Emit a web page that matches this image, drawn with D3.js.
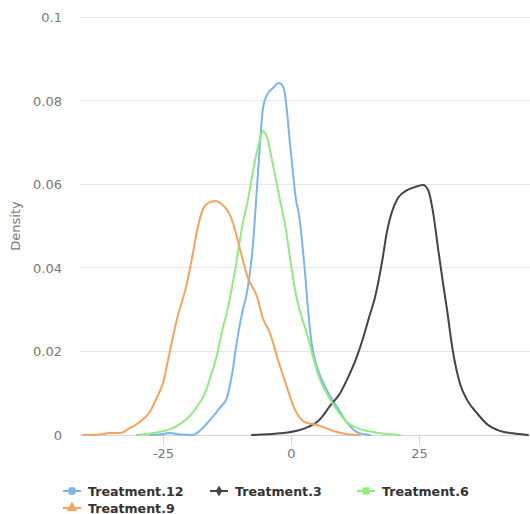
<!DOCTYPE html>
<html>
<head>
<meta charset="utf-8">
<script src="https://cdn.jsdelivr.net/npm/d3@7"></script>
<style>
  body { margin: 0; background: #fff; }
  svg { display: block; font-family: "DejaVu Sans", sans-serif; }
</style>
</head>
<body>
<svg id="chart"></svg>
<script>
// density estimates, [value, density]
const treatment12 = [[-27.5,0],[-25.6,0.0001],[-23.6,0.0005],[-21.7,0.0001],[-19.1,0],[-17.8,0.001],[-15.8,0.0036],[-13.9,0.0065],[-12.5,0.0089],[-11.9,0.012],[-11.3,0.016],[-10.9,0.0196],[-10.0,0.0263],[-9.4,0.0299],[-8.6,0.034],[-8.0,0.039],[-7.6,0.0431],[-7.2,0.049],[-6.8,0.0562],[-6.25,0.0658],[-5.5,0.0778],[-4.7,0.0813],[-3.5,0.083],[-2.3,0.0842],[-1.6,0.0835],[-1.2,0.0818],[-0.8,0.0778],[-0.2,0.0699],[0.4,0.0627],[1.0,0.0562],[1.6,0.0526],[2.15,0.0467],[2.7,0.0395],[3.5,0.028],[4.1,0.0215],[4.7,0.0179],[5.3,0.0155],[7.0,0.0108],[9.0,0.0067],[10.9,0.0031],[12.9,0.0007],[15.4,0]];
const treatment3 = [[-7.6,0],[-2.15,0.0004],[1.2,0.001],[3.3,0.0019],[5.1,0.0031],[6.25,0.0046],[7.6,0.0069],[9.6,0.01],[11.1,0.0136],[12.9,0.0188],[14.1,0.0232],[15.4,0.0287],[16.4,0.0328],[17.8,0.0414],[18.75,0.0486],[19.7,0.0533],[20.9,0.0567],[22.7,0.0586],[24.2,0.0593],[25.8,0.0598],[26.8,0.0586],[27.7,0.0538],[28.7,0.045],[29.7,0.0364],[30.5,0.0299],[31.6,0.0203],[33.0,0.0124],[34.4,0.0084],[36.3,0.0053],[38.3,0.0026],[40.8,0.001],[43.4,0.0004],[46.3,0]];
const treatment6 = [[-30.1,0],[-26.2,0.0006],[-23.6,0.0014],[-21.7,0.0026],[-19.7,0.0046],[-18.4,0.0067],[-16.8,0.01],[-15.8,0.0136],[-14.45,0.0191],[-13.3,0.0256],[-12.5,0.0294],[-10.9,0.0395],[-9.4,0.0507],[-8.4,0.0562],[-7.0,0.0658],[-6.05,0.0706],[-5.5,0.0727],[-4.7,0.0713],[-3.7,0.0658],[-2.15,0.0562],[-1.2,0.0507],[-0.2,0.0426],[0.8,0.0347],[2.15,0.028],[3.1,0.0244],[4.3,0.0187],[5.7,0.0132],[7.0,0.01],[9.0,0.006],[10.9,0.0031],[12.9,0.0017],[16.0,0.0007],[19.3,0.0002],[21.3,0]];
const treatment9 = [[-40.6,0],[-37.3,0.0001],[-35.35,0.0005],[-33.4,0.0005],[-31.45,0.0017],[-29.5,0.0031],[-27.5,0.0057],[-26.2,0.0089],[-25.0,0.0124],[-23.6,0.0203],[-22.3,0.0275],[-20.3,0.0364],[-19.1,0.0438],[-18.4,0.0485],[-17.4,0.0533],[-16.2,0.0555],[-14.8,0.056],[-13.3,0.055],[-11.9,0.0526],[-10.9,0.049],[-10.0,0.0447],[-8.4,0.0376],[-6.6,0.033],[-5.5,0.028],[-4.1,0.0244],[-2.5,0.0179],[-0.8,0.0115],[0.8,0.006],[2.7,0.0031],[5.1,0.0024],[6.25,0.0019],[9.0,0.0007],[10.9,0.0002],[13.5,0]];

const seriesNames = ["Treatment.12", "Treatment.3", "Treatment.6", "Treatment.9"];
const seriesColors = ["#7cb5ec", "#434348", "#90ed7d", "#f7a35c"];
const seriesSymbols = ["circle", "diamond", "square", "triangle"];
const xTicks = [-25, 0, 25];
const yTicks = [0, 0.02, 0.04, 0.06, 0.08, 0.1];

const series = [treatment12, treatment3, treatment6, treatment9];

let width = 530,
    height = 514,
    margin = {top: 17, right: 0, bottom: 79, left: 80};

let svg = d3.select("#chart").attr("width", width).attr("height", height);

let x = d3.scaleLinear().domain([-41.2, 46.7]).range([margin.left, width - margin.right]);
let y = d3.scaleLinear().domain([0, 0.1]).range([height - margin.bottom, margin.top]);

// grid
svg.append("g")
    .selectAll("line")
    .data(yTicks.slice(1))
    .enter().append("line")
    .attr("x1", margin.left).attr("x2", width - margin.right)
    .attr("y1", d => y(d)).attr("y2", d => y(d))
    .attr("stroke", "#e6e6e6").attr("stroke-width", 1)
    .attr("shape-rendering", "crispEdges");

// y labels
svg.append("g")
    .selectAll("text")
    .data(yTicks)
    .enter().append("text")
    .attr("x", 62)
    .attr("y", d => y(d) + 5)
    .attr("text-anchor", "end")
    .attr("fill", "#777")
    .attr("font-size", 13)
    .text(d => d3.format("~g")(d));

svg.append("text")
    .attr("transform", "translate(20," + (margin.top + height - margin.bottom) / 2 + ") rotate(-90)")
    .attr("text-anchor", "middle")
    .attr("fill", "#777")
    .attr("font-size", 13)
    .text("Density");

// x axis
let xAxis = svg.append("g")
    .attr("transform", "translate(0," + y(0) + ")")
    .call(d3.axisBottom(x).tickValues(xTicks).tickSize(10).tickPadding(4).tickFormat(d3.format("d")));
xAxis.select(".domain").attr("stroke", "#ccd6eb").attr("d", "M" + margin.left + ",0.5H" + (width - margin.right));
xAxis.selectAll(".tick line").attr("stroke", "#ccd6eb");
xAxis.selectAll(".tick text").attr("fill", "#777").attr("font-size", 13)
    .attr("font-family", "DejaVu Sans, sans-serif")
    .text(d => d < 0 ? "-" + Math.abs(d) : d);

// lines
let line = d3.line()
    .x(d => x(d[0]))
    .y(d => y(d[1]))
    .curve(d3.curveMonotoneX);

svg.append("g")
    .selectAll("path")
    .data(series)
    .enter().append("path")
    .attr("d", line)
    .attr("fill", "none")
    .attr("stroke", (d, i) => seriesColors[i])
    .attr("stroke-width", 2)
    .attr("stroke-linejoin", "round")
    .attr("stroke-linecap", "round");

// legend
let symbolTypes = {
    circle: d3.symbolCircle,
    diamond: d3.symbolDiamond,
    square: d3.symbolSquare,
    triangle: d3.symbolTriangle
};
let legendPos = [[63, 491], [210, 491], [357, 491], [63, 508]];

let legend = svg.append("g")
    .selectAll("g")
    .data(seriesNames)
    .enter().append("g")
    .attr("transform", (d, i) => "translate(" + legendPos[i][0] + "," + legendPos[i][1] + ")");

legend.append("line")
    .attr("x1", 0).attr("x2", 18)
    .attr("stroke", (d, i) => seriesColors[i])
    .attr("stroke-width", 2);

legend.append("path")
    .attr("transform", "translate(9,0)")
    .attr("d", (d, i) => d3.symbol().type(symbolTypes[seriesSymbols[i]]).size(i == 1 ? 36 : 50)())
    .attr("fill", (d, i) => seriesColors[i]);

legend.append("text")
    .attr("x", 25)
    .attr("y", 4.5)
    .attr("fill", "#333")
    .attr("font-size", 12.6)
    .attr("font-weight", "bold")
    .text(d => d);
</script>
</body>
</html>
